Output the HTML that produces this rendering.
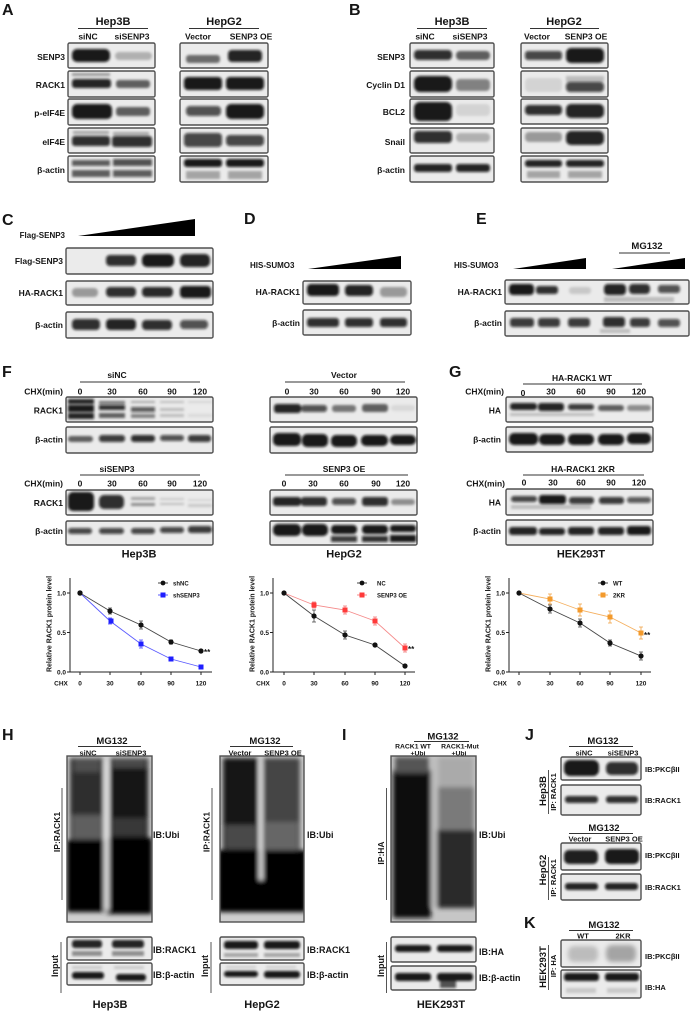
<!DOCTYPE html>
<html><head><meta charset="utf-8">
<style>
html,body{margin:0;padding:0;background:#fff}
svg{display:block}
text{font-family:"Liberation Sans",Arial,sans-serif;font-weight:bold;fill:#151515}
.bx{fill:#ebebeb;stroke:#505050;stroke-width:1.4}
.ul{stroke:#333;stroke-width:1.1}
.ax{stroke:#222;stroke-width:1;fill:none}
</style></head><body>
<svg width="692" height="1011" viewBox="0 0 692 1011" xmlns="http://www.w3.org/2000/svg">
<defs>
<filter id="f" x="-50%" y="-200%" width="200%" height="500%"><feGaussianBlur stdDeviation="1.3"/></filter>
<filter id="g" x="-50%" y="-50%" width="200%" height="200%"><feGaussianBlur stdDeviation="2.5"/></filter>
<clipPath id="cH1"><rect x="67" y="756" width="85" height="166"/></clipPath>
<clipPath id="cH2"><rect x="220" y="756" width="84" height="166"/></clipPath>
<clipPath id="cI"><rect x="391" y="756" width="85" height="166"/></clipPath>
</defs>

<!-- ===== PANEL A ===== -->
<text x="2" y="15" font-size="16">A</text>
<text x="113" y="25" font-size="11" text-anchor="middle">Hep3B</text>
<line class="ul" x1="78" y1="28.5" x2="148" y2="28.5"/>
<text x="88" y="39.5" font-size="8.5" text-anchor="middle">siNC</text>
<text x="132" y="39.5" font-size="8.5" text-anchor="middle">siSENP3</text>
<text x="224" y="25" font-size="11" text-anchor="middle">HepG2</text>
<line class="ul" x1="189" y1="28.5" x2="259" y2="28.5"/>
<text x="198" y="39.5" font-size="8.5" text-anchor="middle">Vector</text>
<text x="251" y="39.5" font-size="8.5" text-anchor="middle">SENP3 OE</text>
<g font-size="8.5" text-anchor="end">
<text x="65" y="60">SENP3</text><text x="65" y="88">RACK1</text><text x="65" y="116">p-eIF4E</text><text x="65" y="145">eIF4E</text><text x="65" y="173">β-actin</text>
</g>
<rect class="bx" x="68" y="43" width="87" height="25" rx="1.5"/>
<rect class="bx" x="68" y="71" width="87" height="26" rx="1.5"/>
<rect class="bx" x="68" y="99" width="87" height="26" rx="1.5"/>
<rect class="bx" x="68" y="128" width="87" height="25" rx="1.5"/>
<rect class="bx" x="68" y="156" width="87" height="26" rx="1.5"/>
<rect class="bx" x="180" y="43" width="88" height="25" rx="1.5"/>
<rect class="bx" x="180" y="71" width="88" height="26" rx="1.5"/>
<rect class="bx" x="180" y="99" width="88" height="26" rx="1.5"/>
<rect class="bx" x="180" y="128" width="88" height="25" rx="1.5"/>
<rect class="bx" x="180" y="156" width="88" height="26" rx="1.5"/>
<g filter="url(#f)" fill="#0a0a0a">
<rect x="72" y="49" width="38" height="13" rx="5" opacity=".95"/><rect x="115" y="52" width="37" height="8" rx="4" opacity=".25"/>
<rect x="72" y="73" width="38" height="3" opacity=".35"/><rect x="72" y="79" width="39" height="9" rx="3" opacity=".9"/><rect x="116" y="80" width="34" height="8" rx="3" opacity=".6"/>
<rect x="72" y="104" width="40" height="15" rx="5" opacity=".95"/><rect x="116" y="107" width="34" height="9" rx="3" opacity=".6"/>
<rect x="73" y="131" width="36" height="3" opacity=".3"/><rect x="72" y="136" width="38" height="10" rx="3" opacity=".85"/><rect x="113" y="132" width="36" height="3" opacity=".3"/><rect x="112" y="136" width="40" height="11" rx="3" opacity=".85"/>
<rect x="72" y="160" width="38" height="6" opacity=".65"/><rect x="72" y="170" width="38" height="7" opacity=".6"/><rect x="113" y="159" width="39" height="7" opacity=".7"/><rect x="113" y="170" width="39" height="7" opacity=".65"/>
<rect x="186" y="55" width="34" height="8" rx="3" opacity=".55"/><rect x="228" y="50" width="34" height="12" rx="4" opacity=".9"/>
<rect x="184" y="77" width="38" height="13" rx="4" opacity=".95"/><rect x="226" y="77" width="38" height="13" rx="4" opacity=".95"/>
<rect x="186" y="106" width="35" height="10" rx="4" opacity=".7"/><rect x="226" y="104" width="38" height="15" rx="5" opacity=".95"/>
<rect x="184" y="133" width="38" height="14" rx="4" opacity=".75"/><rect x="226" y="135" width="38" height="11" rx="4" opacity=".75"/>
<rect x="184" y="159" width="38" height="8" rx="3" opacity=".95"/><rect x="226" y="159" width="38" height="8" rx="3" opacity=".95"/>
<rect x="186" y="171" width="34" height="8" opacity=".3"/><rect x="228" y="171" width="34" height="8" opacity=".3"/>
</g>

<!-- ===== PANEL B ===== -->
<text x="349" y="15" font-size="16">B</text>
<text x="452" y="25" font-size="11" text-anchor="middle">Hep3B</text>
<line class="ul" x1="417" y1="28.5" x2="487" y2="28.5"/>
<text x="425" y="39.5" font-size="8.5" text-anchor="middle">siNC</text>
<text x="470" y="39.5" font-size="8.5" text-anchor="middle">siSENP3</text>
<text x="564" y="25" font-size="11" text-anchor="middle">HepG2</text>
<line class="ul" x1="530" y1="28.5" x2="599" y2="28.5"/>
<text x="537" y="39.5" font-size="8.5" text-anchor="middle">Vector</text>
<text x="586" y="39.5" font-size="8.5" text-anchor="middle">SENP3 OE</text>
<g font-size="8.5" text-anchor="end">
<text x="405" y="60">SENP3</text><text x="405" y="88">Cyclin D1</text><text x="405" y="115">BCL2</text><text x="405" y="145">Snail</text><text x="405" y="173">β-actin</text>
</g>
<rect class="bx" x="410" y="43" width="84" height="25" rx="1.5"/>
<rect class="bx" x="410" y="71" width="84" height="26" rx="1.5"/>
<rect class="bx" x="410" y="99" width="84" height="25" rx="1.5"/>
<rect class="bx" x="410" y="128" width="84" height="25" rx="1.5"/>
<rect class="bx" x="410" y="156" width="84" height="26" rx="1.5"/>
<rect class="bx" x="521" y="43" width="87" height="25" rx="1.5"/>
<rect class="bx" x="521" y="71" width="87" height="26" rx="1.5"/>
<rect class="bx" x="521" y="99" width="87" height="25" rx="1.5"/>
<rect class="bx" x="521" y="128" width="87" height="25" rx="1.5"/>
<rect class="bx" x="521" y="156" width="87" height="26" rx="1.5"/>
<g filter="url(#f)" fill="#0a0a0a">
<rect x="414" y="50" width="38" height="10" rx="4" opacity=".85"/><rect x="456" y="51" width="34" height="9" rx="4" opacity=".6"/>
<rect x="414" y="76" width="38" height="16" rx="6" opacity=".95"/><rect x="456" y="79" width="34" height="12" rx="4" opacity=".45"/>
<rect x="414" y="102" width="38" height="19" rx="6" opacity=".95"/><rect x="456" y="104" width="34" height="12" rx="4" opacity=".1"/>
<rect x="414" y="131" width="38" height="12" rx="4" opacity=".85"/><rect x="456" y="133" width="34" height="9" rx="4" opacity=".25"/>
<rect x="414" y="164" width="38" height="8" rx="3" opacity=".9"/><rect x="456" y="164" width="34" height="8" rx="3" opacity=".9"/>
<rect x="525" y="51" width="37" height="9" rx="3" opacity=".75"/><rect x="566" y="48" width="38" height="15" rx="5" opacity=".95"/>
<rect x="525" y="78" width="37" height="14" rx="4" opacity=".1"/><rect x="566" y="76" width="38" height="6" opacity=".2"/><rect x="566" y="82" width="38" height="10" rx="4" opacity=".75"/>
<rect x="525" y="105" width="37" height="10" rx="4" opacity=".85"/><rect x="566" y="104" width="38" height="14" rx="5" opacity=".9"/>
<rect x="525" y="132" width="37" height="10" rx="4" opacity=".35"/><rect x="566" y="131" width="38" height="14" rx="5" opacity=".9"/>
<rect x="525" y="160" width="37" height="7" rx="3" opacity=".9"/><rect x="566" y="160" width="38" height="7" rx="3" opacity=".9"/>
<rect x="527" y="171" width="33" height="7" opacity=".3"/><rect x="568" y="171" width="34" height="7" opacity=".3"/>
</g>

<!-- ===== PANEL C ===== -->
<text x="2" y="225" font-size="16">C</text>
<text x="65" y="238" font-size="8" text-anchor="end">Flag-SENP3</text>
<polygon points="78,236 195,219 195,236" fill="#000"/>
<g font-size="8.5" text-anchor="end">
<text x="63" y="264">Flag-SENP3</text><text x="63" y="296">HA-RACK1</text><text x="63" y="328">β-actin</text>
</g>
<rect class="bx" x="66" y="248" width="147" height="26" rx="1.5"/>
<rect class="bx" x="66" y="281" width="147" height="24" rx="1.5"/>
<rect class="bx" x="66" y="312" width="147" height="26" rx="1.5"/>
<g filter="url(#f)" fill="#0a0a0a">
<rect x="106" y="255" width="30" height="11" rx="4" opacity=".85"/><rect x="142" y="254" width="32" height="13" rx="5" opacity=".95"/><rect x="180" y="254" width="30" height="13" rx="5" opacity=".9"/>
<rect x="72" y="288" width="26" height="9" rx="4" opacity=".35"/><rect x="106" y="287" width="30" height="10" rx="4" opacity=".85"/><rect x="142" y="287" width="31" height="10" rx="4" opacity=".88"/><rect x="180" y="286" width="31" height="12" rx="4" opacity=".95"/>
<rect x="72" y="319" width="28" height="11" rx="4" opacity=".85"/><rect x="106" y="319" width="30" height="11" rx="4" opacity=".9"/><rect x="142" y="320" width="30" height="10" rx="4" opacity=".85"/><rect x="180" y="320" width="28" height="9" rx="4" opacity=".7"/>
</g>

<!-- ===== PANEL D ===== -->
<text x="244" y="224" font-size="16">D</text>
<text x="250" y="268" font-size="8">HIS-SUMO3</text>
<polygon points="308,269 401,256 401,269" fill="#000"/>
<g font-size="8.5" text-anchor="end">
<text x="300" y="295">HA-RACK1</text><text x="300" y="326">β-actin</text>
</g>
<rect class="bx" x="303" y="281" width="108" height="23" rx="1.5"/>
<rect class="bx" x="303" y="310" width="108" height="25" rx="1.5"/>
<g filter="url(#f)" fill="#0a0a0a">
<rect x="307" y="284" width="32" height="12" rx="4" opacity=".95"/><rect x="345" y="285" width="28" height="11" rx="4" opacity=".9"/><rect x="380" y="287" width="27" height="10" rx="4" opacity=".35"/>
<rect x="307" y="318" width="32" height="9" rx="3" opacity=".85"/><rect x="345" y="318" width="28" height="9" rx="3" opacity=".85"/><rect x="380" y="318" width="27" height="9" rx="3" opacity=".85"/>
</g>

<!-- ===== PANEL E ===== -->
<text x="476" y="224" font-size="16">E</text>
<text x="647" y="249" font-size="9.5" text-anchor="middle">MG132</text>
<line class="ul" x1="619" y1="253" x2="670" y2="253"/>
<text x="454" y="268" font-size="8">HIS-SUMO3</text>
<polygon points="513,269 586,258 586,269" fill="#000"/>
<polygon points="612,269 685,258 685,269" fill="#000"/>
<g font-size="8.5" text-anchor="end">
<text x="502" y="295">HA-RACK1</text><text x="502" y="326">β-actin</text>
</g>
<rect class="bx" x="505" y="280" width="184" height="24" rx="1.5"/>
<rect class="bx" x="505" y="311" width="184" height="25" rx="1.5"/>
<g filter="url(#f)" fill="#0a0a0a">
<rect x="509" y="284" width="25" height="11" rx="4" opacity=".95"/><rect x="536" y="286" width="22" height="8" rx="3" opacity=".85"/><rect x="569" y="287" width="22" height="7" rx="3" opacity=".15"/>
<rect x="604" y="284" width="22" height="11" rx="4" opacity=".9"/><rect x="629" y="284" width="21" height="10" rx="4" opacity=".85"/><rect x="658" y="285" width="22" height="8" rx="3" opacity=".7"/>
<rect x="604" y="297" width="70" height="5" opacity=".2"/>
<rect x="510" y="318" width="24" height="9" rx="3" opacity=".8"/><rect x="538" y="318" width="22" height="9" rx="3" opacity=".8"/><rect x="568" y="318" width="22" height="9" rx="3" opacity=".8"/>
<rect x="603" y="317" width="22" height="10" rx="3" opacity=".85"/><rect x="630" y="318" width="20" height="9" rx="3" opacity=".8"/><rect x="658" y="319" width="22" height="8" rx="3" opacity=".7"/>
<rect x="600" y="329" width="30" height="4" opacity=".2"/>
</g>

<!-- ===== PANEL F ===== -->
<text x="2" y="377" font-size="16">F</text>
<text x="117" y="378" font-size="8.5" text-anchor="middle">siNC</text>
<line class="ul" x1="80" y1="382" x2="200" y2="382"/>
<g font-size="8.5">
<text x="63" y="394.5" text-anchor="end">CHX(min)</text>
<text x="80" y="394.5" text-anchor="middle">0</text><text x="112" y="394.5" text-anchor="middle">30</text><text x="143" y="394.5" text-anchor="middle">60</text><text x="172" y="394.5" text-anchor="middle">90</text><text x="200" y="394.5" text-anchor="middle">120</text>
<text x="63" y="413.5" text-anchor="end">RACK1</text><text x="63" y="442.5" text-anchor="end">β-actin</text>
</g>
<rect class="bx" x="66" y="397" width="147" height="25" rx="1.5"/>
<rect class="bx" x="66" y="427" width="147" height="26" rx="1.5"/>
<text x="117" y="472" font-size="8.5" text-anchor="middle">siSENP3</text>
<line class="ul" x1="80" y1="475" x2="200" y2="475"/>
<g font-size="8.5">
<text x="63" y="486.5" text-anchor="end">CHX(min)</text>
<text x="80" y="486.5" text-anchor="middle">0</text><text x="112" y="486.5" text-anchor="middle">30</text><text x="143" y="486.5" text-anchor="middle">60</text><text x="172" y="486.5" text-anchor="middle">90</text><text x="200" y="486.5" text-anchor="middle">120</text>
<text x="63" y="506" text-anchor="end">RACK1</text><text x="63" y="534" text-anchor="end">β-actin</text>
</g>
<rect class="bx" x="66" y="490" width="147" height="25" rx="1.5"/>
<rect class="bx" x="66" y="521" width="147" height="24" rx="1.5"/>
<text x="139" y="557.5" font-size="11" text-anchor="middle">Hep3B</text>
<g filter="url(#f)" fill="#0a0a0a">
<rect x="68" y="399" width="26" height="5" opacity=".9"/><rect x="68" y="405" width="26" height="7" opacity=".95"/><rect x="68" y="413" width="26" height="6" opacity=".9"/>
<rect x="99" y="401" width="26" height="3" opacity=".5"/><rect x="99" y="405" width="26" height="5" opacity=".85"/><rect x="99" y="413" width="26" height="5" opacity=".6"/>
<rect x="131" y="401" width="24" height="2" opacity=".3"/><rect x="131" y="407" width="24" height="5" opacity=".65"/><rect x="131" y="414" width="24" height="4" opacity=".45"/>
<rect x="160" y="401" width="24" height="2" opacity=".2"/><rect x="160" y="408" width="24" height="3" opacity=".2"/><rect x="160" y="414" width="24" height="3" opacity=".2"/>
<rect x="188" y="401" width="24" height="2" opacity=".1"/><rect x="188" y="414" width="24" height="3" opacity=".08"/>
<rect x="68" y="436" width="25" height="6" rx="3" opacity=".6"/><rect x="99" y="435" width="26" height="7" rx="3" opacity=".8"/><rect x="131" y="435" width="24" height="7" rx="3" opacity=".85"/><rect x="160" y="435" width="24" height="6" rx="3" opacity=".7"/><rect x="188" y="435" width="23" height="7" rx="3" opacity=".8"/>
<rect x="68" y="492" width="26" height="19" rx="5" opacity=".95"/><rect x="99" y="495" width="25" height="14" rx="5" opacity=".85"/>
<rect x="131" y="497" width="24" height="3" opacity=".3"/><rect x="131" y="503" width="24" height="3" opacity=".4"/>
<rect x="160" y="498" width="24" height="2" opacity=".15"/><rect x="160" y="503" width="24" height="2" opacity=".2"/>
<rect x="188" y="499" width="24" height="2" opacity=".1"/><rect x="188" y="504" width="24" height="3" opacity=".15"/>
<rect x="68" y="528" width="24" height="6" rx="3" opacity=".75"/><rect x="99" y="528" width="25" height="6" rx="3" opacity=".75"/><rect x="131" y="528" width="24" height="6" rx="3" opacity=".75"/><rect x="160" y="527" width="24" height="6" rx="3" opacity=".75"/><rect x="188" y="526" width="24" height="7" rx="3" opacity=".8"/>
</g>
<text x="344" y="378" font-size="8.5" text-anchor="middle">Vector</text>
<line class="ul" x1="285" y1="382" x2="405" y2="382"/>
<g font-size="8.5" text-anchor="middle">
<text x="287" y="394.5">0</text><text x="314" y="394.5">30</text><text x="344" y="394.5">60</text><text x="376" y="394.5">90</text><text x="403" y="394.5">120</text>
</g>
<rect class="bx" x="270" y="397" width="147" height="25" rx="1.5"/>
<rect class="bx" x="270" y="427" width="147" height="26" rx="1.5"/>
<text x="344" y="472" font-size="8.5" text-anchor="middle">SENP3 OE</text>
<line class="ul" x1="285" y1="475" x2="408" y2="475"/>
<g font-size="8.5" text-anchor="middle">
<text x="284" y="486.5">0</text><text x="313" y="486.5">30</text><text x="344" y="486.5">60</text><text x="376" y="486.5">90</text><text x="403" y="486.5">120</text>
</g>
<rect class="bx" x="270" y="490" width="147" height="25" rx="1.5"/>
<rect class="bx" x="270" y="521" width="147" height="24" rx="1.5"/>
<text x="344" y="557.5" font-size="11" text-anchor="middle">HepG2</text>
<g filter="url(#f)" fill="#0a0a0a">
<rect x="274" y="404" width="27" height="9" rx="3" opacity=".9"/><rect x="301" y="405" width="26" height="7" rx="3" opacity=".7"/><rect x="332" y="405" width="24" height="7" rx="3" opacity=".5"/><rect x="362" y="404" width="26" height="8" rx="3" opacity=".6"/><rect x="391" y="405" width="24" height="6" rx="3" opacity=".08"/>
<rect x="273" y="433" width="28" height="13" rx="5" opacity=".95"/><rect x="302" y="434" width="26" height="13" rx="5" opacity=".95"/><rect x="331" y="435" width="26" height="12" rx="5" opacity=".95"/><rect x="361" y="435" width="27" height="11" rx="5" opacity=".95"/><rect x="390" y="435" width="26" height="10" rx="5" opacity=".95"/>
<rect x="273" y="497" width="28" height="9" rx="3" opacity=".9"/><rect x="301" y="497" width="26" height="9" rx="3" opacity=".85"/><rect x="332" y="498" width="24" height="7" rx="3" opacity=".7"/><rect x="362" y="497" width="26" height="9" rx="3" opacity=".85"/><rect x="391" y="499" width="24" height="6" rx="3" opacity=".4"/>
<rect x="273" y="524" width="28" height="12" rx="5" opacity=".95"/><rect x="302" y="524" width="26" height="12" rx="5" opacity=".95"/><rect x="331" y="525" width="26" height="9" rx="4" opacity=".95"/><rect x="362" y="525" width="26" height="9" rx="4" opacity=".95"/><rect x="390" y="525" width="26" height="7" rx="3" opacity=".95"/>
<rect x="331" y="536" width="26" height="6" opacity=".8"/><rect x="362" y="536" width="26" height="6" opacity=".85"/><rect x="390" y="535" width="26" height="7" opacity=".95"/>
</g>

<!-- ===== PANEL G ===== -->
<text x="449" y="377" font-size="16">G</text>
<text x="582" y="381" font-size="8.5" text-anchor="middle">HA-RACK1 WT</text>
<line class="ul" x1="523" y1="384" x2="642" y2="384"/>
<g font-size="8.5">
<text x="504" y="394.5" text-anchor="end">CHX(min)</text>
<text x="523" y="396" text-anchor="middle">0</text><text x="551" y="394.5" text-anchor="middle">30</text><text x="581" y="394.5" text-anchor="middle">60</text><text x="611" y="394.5" text-anchor="middle">90</text><text x="639" y="394.5" text-anchor="middle">120</text>
<text x="501" y="413.5" text-anchor="end">HA</text><text x="501" y="442.5" text-anchor="end">β-actin</text>
</g>
<rect class="bx" x="506" y="397" width="147" height="25" rx="1.5"/>
<rect class="bx" x="506" y="427" width="147" height="25" rx="1.5"/>
<text x="583" y="472" font-size="8.5" text-anchor="middle">HA-RACK1 2KR</text>
<line class="ul" x1="523" y1="475" x2="644" y2="475"/>
<g font-size="8.5">
<text x="505" y="486.5" text-anchor="end">CHX(min)</text>
<text x="524" y="485.5" text-anchor="middle">0</text><text x="553" y="485.5" text-anchor="middle">30</text><text x="581" y="485.5" text-anchor="middle">60</text><text x="611" y="485.5" text-anchor="middle">90</text><text x="639" y="485.5" text-anchor="middle">120</text>
<text x="501" y="505.5" text-anchor="end">HA</text><text x="501" y="534" text-anchor="end">β-actin</text>
</g>
<rect class="bx" x="506" y="489" width="147" height="26" rx="1.5"/>
<rect class="bx" x="506" y="520" width="147" height="25" rx="1.5"/>
<text x="581" y="557.5" font-size="11" text-anchor="middle">HEK293T</text>
<g filter="url(#f)" fill="#0a0a0a">
<rect x="510" y="403" width="27" height="7" rx="3" opacity=".9"/><rect x="538" y="403" width="26" height="8" rx="3" opacity=".9"/><rect x="568" y="404" width="26" height="6" rx="3" opacity=".8"/><rect x="598" y="405" width="26" height="6" rx="3" opacity=".6"/><rect x="627" y="405" width="24" height="6" rx="3" opacity=".4"/>
<rect x="510" y="413" width="84" height="3" opacity=".2"/>
<rect x="509" y="433" width="29" height="12" rx="5" opacity=".95"/><rect x="539" y="434" width="26" height="11" rx="5" opacity=".95"/><rect x="568" y="434" width="26" height="11" rx="5" opacity=".95"/><rect x="598" y="434" width="26" height="11" rx="5" opacity=".95"/><rect x="627" y="433" width="24" height="11" rx="5" opacity=".95"/>
<rect x="511" y="496" width="26" height="6" rx="3" opacity=".75"/><rect x="539" y="495" width="27" height="9" rx="3" opacity=".95"/><rect x="569" y="497" width="25" height="7" rx="3" opacity=".8"/><rect x="599" y="497" width="25" height="7" rx="3" opacity=".8"/><rect x="627" y="497" width="24" height="6" rx="3" opacity=".65"/>
<rect x="511" y="505" width="80" height="4" opacity=".2"/>
<rect x="509" y="527" width="28" height="8" rx="3" opacity=".9"/><rect x="539" y="528" width="26" height="7" rx="3" opacity=".9"/><rect x="568" y="527" width="26" height="8" rx="3" opacity=".9"/><rect x="598" y="527" width="26" height="8" rx="3" opacity=".9"/><rect x="627" y="526" width="24" height="9" rx="3" opacity=".95"/>
</g>

<!-- ===== CHARTS ===== -->
<text transform="translate(51.5,624) rotate(-90)" font-size="7" text-anchor="middle" fill="#333">Relative RACK1 protein level</text>
<path class="ax" d="M70,578V672.5M70,672H212M67,593H70M67,632.5H70M67,672H70M80,672V675M110,672V675M141,672V675M171,672V675M201,672V675"/>
<g font-size="6.5" text-anchor="end"><text x="66" y="595.5">1.0</text><text x="66" y="635">0.5</text><text x="66" y="674.5">0.0</text></g>
<g font-size="6.5" text-anchor="middle"><text x="61" y="685.5">CHX</text><text x="80" y="685.5">0</text><text x="110" y="685.5">30</text><text x="141" y="685.5">60</text><text x="171" y="685.5">90</text><text x="201" y="685.5">120</text></g>
<polyline points="80,593 110,611 141,625 171,642 201,651" fill="none" stroke="#444" stroke-width="0.9"/>
<polyline points="80,593 110,621 141,644 171,659 201,667" fill="none" stroke="#5a5aff" stroke-width="0.9"/>
<path d="M110,608V614M108,608H112M108,614H112M141,621V629M139,621H143M139,629H143M171,640V644M169,640H173M169,644H173" stroke="#444" stroke-width="0.8"/>
<path d="M110,618V624M108,618H112M108,624H112M141,640V648M139,640H143M139,648H143M171,657V661M169,657H173M169,661H173" stroke="#4444ff" stroke-width="0.8"/>
<g fill="#111"><circle cx="80" cy="593" r="2.6"/><circle cx="110" cy="611" r="2.6"/><circle cx="141" cy="625" r="2.6"/><circle cx="171" cy="642" r="2.6"/><circle cx="201" cy="651" r="2.6"/></g>
<g fill="#1f1fff"><rect x="108.5" y="618.5" width="5" height="5"/><rect x="138.5" y="641.5" width="5" height="5"/><rect x="168.5" y="656.5" width="5" height="5"/><rect x="198.5" y="664.5" width="5" height="5"/></g>
<circle cx="80" cy="593" r="2.6" fill="#111"/>
<text x="204" y="655" font-size="8">**</text>
<line x1="158" y1="583" x2="168" y2="583" stroke="#444"/><circle cx="163" cy="583" r="2.4" fill="#111"/>
<text x="173" y="585.3" font-size="6">shNC</text>
<line x1="158" y1="595" x2="168" y2="595" stroke="#5a5aff"/><rect x="160.5" y="592.5" width="5" height="5" fill="#1f1fff"/>
<text x="173" y="597.3" font-size="6">shSENP3</text>

<text transform="translate(254.5,624) rotate(-90)" font-size="7" text-anchor="middle" fill="#333">Relative RACK1 protein level</text>
<path class="ax" d="M273,578V672.5M273,672H415M270,593H273M270,632.5H273M270,672H273M284,672V675M314,672V675M345,672V675M375,672V675M405,672V675"/>
<g font-size="6.5" text-anchor="end"><text x="269" y="595.5">1.0</text><text x="269" y="635">0.5</text><text x="269" y="674.5">0.0</text></g>
<g font-size="6.5" text-anchor="middle"><text x="263" y="685.5">CHX</text><text x="284" y="685.5">0</text><text x="314" y="685.5">30</text><text x="345" y="685.5">60</text><text x="375" y="685.5">90</text><text x="405" y="685.5">120</text></g>
<polyline points="284,593 314,616 345,635 375,645 405,666" fill="none" stroke="#444" stroke-width="0.9"/>
<polyline points="284,593 314,605 345,610 375,621 405,648" fill="none" stroke="#f58a8a" stroke-width="0.9"/>
<path d="M314,610V622M312,610H316M312,622H316M345,631V639M343,631H347M343,639H347" stroke="#444" stroke-width="0.8"/>
<path d="M314,602V608M312,602H316M312,608H316M345,606V614M343,606H347M343,614H347M375,617V625M373,617H377M373,625H377M405,644V652M403,644H407M403,652H407" stroke="#f07070" stroke-width="0.8"/>
<g fill="#111"><circle cx="314" cy="616" r="2.6"/><circle cx="345" cy="635" r="2.6"/><circle cx="375" cy="645" r="2.6"/><circle cx="405" cy="666" r="2.6"/></g>
<g fill="#ff3a3a"><rect x="311.5" y="602.5" width="5" height="5"/><rect x="342.5" y="607.5" width="5" height="5"/><rect x="372.5" y="618.5" width="5" height="5"/><rect x="402.5" y="645.5" width="5" height="5"/></g>
<circle cx="284" cy="593" r="2.6" fill="#111"/>
<text x="408" y="652" font-size="8">**</text>
<line x1="357" y1="583" x2="367" y2="583" stroke="#444"/><circle cx="362" cy="583" r="2.4" fill="#111"/>
<text x="377" y="585.3" font-size="6">NC</text>
<line x1="357" y1="595" x2="367" y2="595" stroke="#f58a8a"/><rect x="359.5" y="592.5" width="5" height="5" fill="#ff3a3a"/>
<text x="377" y="597.3" font-size="6">SENP3 OE</text>

<text transform="translate(490.5,624) rotate(-90)" font-size="7" text-anchor="middle" fill="#333">Relative RACK1 protein level</text>
<path class="ax" d="M509,578V672.5M509,672H651M506,593H509M506,632.5H509M506,672H509M519,672V675M550,672V675M580,672V675M610,672V675M641,672V675"/>
<g font-size="6.5" text-anchor="end"><text x="505" y="595.5">1.0</text><text x="505" y="635">0.5</text><text x="505" y="674.5">0.0</text></g>
<g font-size="6.5" text-anchor="middle"><text x="500" y="685.5">CHX</text><text x="519" y="685.5">0</text><text x="550" y="685.5">30</text><text x="580" y="685.5">60</text><text x="610" y="685.5">90</text><text x="641" y="685.5">120</text></g>
<polyline points="519,593 550,609 580,623 610,643 641,656" fill="none" stroke="#444" stroke-width="0.9"/>
<polyline points="519,593 550,599 580,610 610,617 641,633" fill="none" stroke="#f5b060" stroke-width="0.9"/>
<path d="M550,605V613M548,605H552M548,613H552M580,619V627M578,619H582M578,627H582M610,640V646M608,640H612M608,646H612M641,652V660M639,652H643M639,660H643" stroke="#444" stroke-width="0.8"/>
<path d="M550,594V604M548,594H552M548,604H552M580,604V616M578,604H582M578,616H582M610,611V623M608,611H612M608,623H612M641,627V639M639,627H643M639,639H643" stroke="#f0a040" stroke-width="0.8"/>
<g fill="#111"><circle cx="550" cy="609" r="2.6"/><circle cx="580" cy="623" r="2.6"/><circle cx="610" cy="643" r="2.6"/><circle cx="641" cy="656" r="2.6"/></g>
<g fill="#f39a2c"><rect x="547.5" y="596.5" width="5" height="5"/><rect x="577.5" y="607.5" width="5" height="5"/><rect x="607.5" y="614.5" width="5" height="5"/><rect x="638.5" y="630.5" width="5" height="5"/></g>
<circle cx="519" cy="593" r="2.6" fill="#111"/>
<text x="644" y="638" font-size="8">**</text>
<line x1="598" y1="583" x2="608" y2="583" stroke="#444"/><circle cx="603" cy="583" r="2.4" fill="#111"/>
<text x="613" y="585.3" font-size="6">WT</text>
<line x1="598" y1="595" x2="608" y2="595" stroke="#f5b060"/><rect x="600.5" y="592.5" width="5" height="5" fill="#f39a2c"/>
<text x="613" y="597.3" font-size="6">2KR</text>

<!-- ===== PANEL H ===== -->
<text x="2" y="740" font-size="16">H</text>
<text x="112" y="744" font-size="9.5" text-anchor="middle">MG132</text>
<line class="ul" x1="78" y1="746.5" x2="141" y2="746.5"/>
<text x="88" y="755.5" font-size="7.5" text-anchor="middle">siNC</text>
<text x="131" y="755.5" font-size="7.5" text-anchor="middle">siSENP3</text>
<rect x="67" y="756" width="85" height="166" fill="#cfcfcf"/>
<g clip-path="url(#cH1)">
<g filter="url(#g)">
<rect x="70" y="758" width="33" height="150" fill="#2e2e2e"/>
<rect x="110" y="758" width="38" height="150" fill="#181818"/>
<rect x="74" y="758" width="26" height="14" fill="#666" opacity=".6"/>
<rect x="72" y="815" width="30" height="24" fill="#888" opacity=".55"/>
<rect x="112" y="758" width="34" height="10" fill="#777" opacity=".5"/>
<rect x="112" y="818" width="34" height="18" fill="#666" opacity=".4"/>
<rect x="67" y="840" width="38" height="72" fill="#000"/>
<rect x="107" y="838" width="45" height="76" fill="#000"/>
<rect x="104" y="760" width="5" height="150" fill="#e0e0e0"/>
</g>
</g>
<rect x="67" y="756" width="85" height="166" fill="none" stroke="#505050" stroke-width="1.4"/>
<line x1="62" y1="788" x2="62" y2="900" stroke="#555" stroke-width="1"/>
<text transform="translate(60,832) rotate(-90)" font-size="8.5" text-anchor="middle">IP:RACK1</text>
<text x="153" y="838" font-size="9">IB:Ubi</text>
<rect class="bx" x="67" y="937" width="85" height="23" rx="1.5"/>
<rect class="bx" x="67" y="963" width="85" height="22" rx="1.5"/>
<g filter="url(#f)" fill="#0a0a0a">
<rect x="72" y="940" width="30" height="8" rx="3" opacity=".9"/><rect x="112" y="940" width="32" height="8" rx="3" opacity=".9"/>
<rect x="72" y="951" width="30" height="5" opacity=".4"/><rect x="112" y="951" width="32" height="5" opacity=".4"/>
<rect x="72" y="972" width="32" height="7" rx="3" opacity=".95"/><rect x="116" y="974" width="30" height="7" rx="3" opacity=".95"/>
<rect x="72" y="966" width="30" height="3" opacity=".15"/><rect x="114" y="966" width="30" height="3" opacity=".15"/>
</g>
<line x1="61" y1="942" x2="61" y2="993" stroke="#555" stroke-width="1"/>
<text transform="translate(58,966) rotate(-90)" font-size="9" text-anchor="middle">Input</text>
<text x="153" y="953" font-size="9">IB:RACK1</text>
<text x="153" y="978" font-size="9">IB:β-actin</text>
<text x="110" y="1008" font-size="11" text-anchor="middle">Hep3B</text>

<text x="265" y="744" font-size="9.5" text-anchor="middle">MG132</text>
<line class="ul" x1="230" y1="746.5" x2="293" y2="746.5"/>
<text x="240" y="755.5" font-size="7.5" text-anchor="middle">Vector</text>
<text x="283" y="755.5" font-size="7.5" text-anchor="middle">SENP3 OE</text>
<rect x="220" y="756" width="84" height="166" fill="#cfcfcf"/>
<g clip-path="url(#cH2)">
<g filter="url(#g)">
<rect x="223" y="758" width="35" height="150" fill="#161616"/>
<rect x="263" y="758" width="37" height="150" fill="#444"/>
<rect x="225" y="825" width="31" height="24" fill="#777" opacity=".55"/>
<rect x="265" y="822" width="33" height="28" fill="#888" opacity=".5"/>
<rect x="218" y="850" width="43" height="62" fill="#000"/>
<rect x="260" y="850" width="46" height="62" fill="#000"/>
<rect x="259" y="760" width="4" height="120" fill="#e0e0e0"/>
</g>
</g>
<rect x="220" y="756" width="84" height="166" fill="none" stroke="#505050" stroke-width="1.4"/>
<line x1="212" y1="788" x2="212" y2="900" stroke="#555" stroke-width="1"/>
<text transform="translate(209.5,832) rotate(-90)" font-size="8.5" text-anchor="middle">IP:RACK1</text>
<text x="307" y="838" font-size="9">IB:Ubi</text>
<rect class="bx" x="220" y="937" width="84" height="23" rx="1.5"/>
<rect class="bx" x="220" y="963" width="84" height="22" rx="1.5"/>
<g filter="url(#f)" fill="#0a0a0a">
<rect x="224" y="941" width="34" height="8" rx="3" opacity=".95"/><rect x="264" y="941" width="36" height="8" rx="3" opacity=".95"/>
<rect x="224" y="953" width="34" height="4" opacity=".3"/><rect x="264" y="953" width="36" height="4" opacity=".3"/>
<rect x="224" y="971" width="34" height="6" rx="3" opacity=".95"/><rect x="264" y="971" width="36" height="7" rx="3" opacity=".95"/>
<rect x="226" y="966" width="30" height="2" opacity=".15"/><rect x="266" y="966" width="30" height="2" opacity=".15"/>
</g>
<line x1="211" y1="942" x2="211" y2="993" stroke="#555" stroke-width="1"/>
<text transform="translate(208,966) rotate(-90)" font-size="9" text-anchor="middle">Input</text>
<text x="307" y="953" font-size="9">IB:RACK1</text>
<text x="307" y="978" font-size="9">IB:β-actin</text>
<text x="262" y="1008" font-size="11" text-anchor="middle">HepG2</text>

<!-- ===== PANEL I ===== -->
<text x="342" y="740" font-size="16">I</text>
<text x="443" y="739.5" font-size="9.5" text-anchor="middle">MG132</text>
<line class="ul" x1="414" y1="741.5" x2="469" y2="741.5"/>
<text x="413" y="748.5" font-size="6.8" text-anchor="middle">RACK1 WT</text>
<text x="460" y="748.5" font-size="6.8" text-anchor="middle">RACK1-Mut</text>
<text x="418" y="755.5" font-size="6.8" text-anchor="middle">+Ubi</text>
<text x="459" y="755.5" font-size="6.8" text-anchor="middle">+Ubi</text>
<rect x="391" y="756" width="85" height="166" fill="#c6c6c6"/>
<g clip-path="url(#cI)">
<g filter="url(#g)">
<rect x="393" y="770" width="38" height="148" fill="#0a0a0a"/>
<rect x="395" y="757" width="34" height="16" fill="#555"/>
<rect x="438" y="757" width="36" height="30" fill="#aaa"/>
<rect x="438" y="787" width="36" height="45" fill="#7a7a7a"/>
<rect x="437" y="830" width="38" height="78" fill="#2a2a2a"/>
<rect x="431" y="757" width="6" height="150" fill="#bdbdbd"/>
</g>
</g>
<rect x="391" y="756" width="85" height="166" fill="none" stroke="#505050" stroke-width="1.4"/>
<line x1="386.5" y1="788" x2="386.5" y2="900" stroke="#555" stroke-width="1"/>
<text transform="translate(384,853) rotate(-90)" font-size="8.5" text-anchor="middle">IP:HA</text>
<text x="479" y="838" font-size="9">IB:Ubi</text>
<rect class="bx" x="391" y="937" width="85" height="25" rx="1.5"/>
<rect class="bx" x="391" y="966" width="85" height="24" rx="1.5"/>
<g filter="url(#f)" fill="#0a0a0a">
<rect x="395" y="945" width="36" height="7" rx="3" opacity=".95"/><rect x="437" y="945" width="36" height="7" rx="3" opacity=".95"/>
<rect x="395" y="973" width="36" height="8" rx="3" opacity=".95"/><rect x="437" y="973" width="36" height="8" rx="3" opacity=".95"/>
<rect x="440" y="981" width="16" height="7" opacity=".7"/>
</g>
<line x1="386.5" y1="942" x2="386.5" y2="993" stroke="#555" stroke-width="1"/>
<text transform="translate(384,966) rotate(-90)" font-size="9" text-anchor="middle">Input</text>
<text x="479" y="955" font-size="9">IB:HA</text>
<text x="479" y="981" font-size="9">IB:β-actin</text>
<text x="441" y="1008" font-size="11" text-anchor="middle">HEK293T</text>

<!-- ===== PANEL J ===== -->
<text x="525" y="740" font-size="16">J</text>
<text x="603" y="744" font-size="9.5" text-anchor="middle">MG132</text>
<line class="ul" x1="569" y1="746.5" x2="633" y2="746.5"/>
<text x="584" y="755.5" font-size="7.5" text-anchor="middle">siNC</text>
<text x="623" y="755.5" font-size="7.5" text-anchor="middle">siSENP3</text>
<rect class="bx" x="561" y="757" width="80" height="23" rx="1.5"/>
<rect class="bx" x="561" y="785" width="80" height="30" rx="1.5"/>
<g filter="url(#f)" fill="#0a0a0a">
<rect x="564" y="760" width="35" height="16" rx="6" opacity=".95"/><rect x="606" y="762" width="32" height="13" rx="5" opacity=".85"/>
<rect x="565" y="796" width="33" height="7" rx="3" opacity=".85"/><rect x="606" y="796" width="32" height="7" rx="3" opacity=".85"/>
</g>
<text x="645" y="772" font-size="7.5">IB:PKCβII</text>
<text x="645" y="803" font-size="7.5">IB:RACK1</text>
<text transform="translate(546,791) rotate(-90)" font-size="9.5" text-anchor="middle">Hep3B</text>
<line x1="548.5" y1="770" x2="548.5" y2="814" stroke="#555" stroke-width="1"/>
<text transform="translate(556,792) rotate(-90)" font-size="7.5" text-anchor="middle">IP: RACK1</text>

<text x="604" y="831" font-size="9.5" text-anchor="middle">MG132</text>
<line class="ul" x1="569" y1="833.5" x2="633" y2="833.5"/>
<text x="580" y="841.5" font-size="7.5" text-anchor="middle">Vector</text>
<text x="624" y="841.5" font-size="7.5" text-anchor="middle">SENP3 OE</text>
<rect class="bx" x="561" y="843" width="80" height="27" rx="1.5"/>
<rect class="bx" x="561" y="874" width="80" height="26" rx="1.5"/>
<g filter="url(#f)" fill="#0a0a0a">
<rect x="564" y="850" width="34" height="14" rx="5" opacity=".92"/><rect x="605" y="849" width="34" height="15" rx="5" opacity=".95"/>
<rect x="565" y="883" width="33" height="7" rx="3" opacity=".9"/><rect x="605" y="883" width="33" height="7" rx="3" opacity=".9"/>
</g>
<text x="645" y="858" font-size="7.5">IB:PKCβII</text>
<text x="645" y="890" font-size="7.5">IB:RACK1</text>
<text transform="translate(546,870) rotate(-90)" font-size="9.5" text-anchor="middle">HepG2</text>
<line x1="548.5" y1="857" x2="548.5" y2="900" stroke="#555" stroke-width="1"/>
<text transform="translate(556,878) rotate(-90)" font-size="7.5" text-anchor="middle">IP: RACK1</text>

<!-- ===== PANEL K ===== -->
<text x="524" y="928" font-size="16">K</text>
<text x="604" y="928" font-size="9.5" text-anchor="middle">MG132</text>
<line class="ul" x1="569" y1="930.5" x2="633" y2="930.5"/>
<text x="583" y="938.5" font-size="7.5" text-anchor="middle">WT</text>
<text x="623" y="938.5" font-size="7.5" text-anchor="middle">2KR</text>
<rect class="bx" x="561" y="940" width="80" height="27" rx="1.5"/>
<rect class="bx" x="561" y="970" width="80" height="28" rx="1.5"/>
<g filter="url(#g)" fill="#0a0a0a">
<rect x="568" y="946" width="30" height="16" rx="6" opacity=".2"/><rect x="606" y="945" width="30" height="17" rx="6" opacity=".3"/>
</g>
<g filter="url(#f)" fill="#0a0a0a">
<rect x="564" y="973" width="35" height="8" rx="3" opacity=".95"/><rect x="605" y="973" width="34" height="8" rx="3" opacity=".95"/>
<rect x="566" y="988" width="30" height="5" opacity=".15"/><rect x="607" y="988" width="30" height="5" opacity=".15"/>
</g>
<text x="645" y="959" font-size="7.5">IB:PKCβII</text>
<text x="645" y="990" font-size="7.5">IB:HA</text>
<text transform="translate(546,967) rotate(-90)" font-size="9.5" text-anchor="middle">HEK293T</text>
<line x1="548.5" y1="945" x2="548.5" y2="990" stroke="#555" stroke-width="1"/>
<text transform="translate(556,966) rotate(-90)" font-size="7.5" text-anchor="middle">IP: HA</text>
</svg>
</body></html>
